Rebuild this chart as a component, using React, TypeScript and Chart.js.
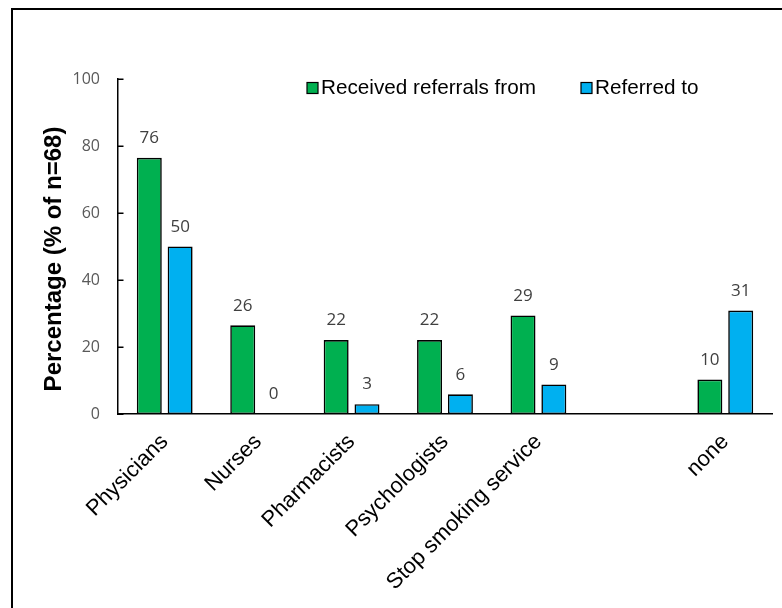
import React, { useEffect, useRef } from "react";
import { Chart, registerables } from "chart.js";

Chart.register(...registerables);

const categories = ["Physicians", "Nurses", "Pharmacists", "Psychologists", "Stop smoking service", "", "none"];
const receivedFrom = [76.47, 26.47, 22.06, 22.06, 29.41, null, 10.29];
const referredTo = [50, 0, 2.94, 5.88, 8.82, null, 30.88];
const seriesNames = ["Received referrals from", "Referred to"];
const seriesColors = ["#00B050", "#00B0F0"];
const yTitle = "Percentage (% of n=68)";
const yMin = 0;
const yMax = 100;
const yStep = 20;

const W = 774;
const H = 600;

const overlayPlugin = {
  id: "overlay",
  afterDatasetsDraw(chart: any) {
    const ctx = chart.ctx;
    const area = chart.chartArea;
    const yScale = chart.scales.y;
    ctx.save();
    // inward y ticks
    ctx.strokeStyle = "#000";
    ctx.lineWidth = 1.5;
    for (let v = yMin; v <= yMax; v += yStep) {
      const py = Math.round(yScale.getPixelForValue(v)) + 0.25;
      ctx.beginPath();
      ctx.moveTo(area.left, py);
      ctx.lineTo(area.left + 5.5, py);
      ctx.stroke();
    }
    // data labels
    ctx.font = "17px 'Open Sans'";
    ctx.fillStyle = "#404040";
    ctx.textAlign = "center";
    ctx.textBaseline = "middle";
    chart.data.datasets.forEach((ds: any, di: number) => {
      const meta = chart.getDatasetMeta(di);
      meta.data.forEach((el: any, i: number) => {
        const v = ds.data[i];
        if (v === null || v === undefined) return;
        ctx.fillText(String(Math.round(v)), el.x, el.y - 19.5);
      });
    });
    // legend
    const legendX = [299, 573];
    const legendY = 80;
    ctx.font = "20.7px 'Liberation Sans', Arial, sans-serif";
    ctx.textAlign = "left";
    ctx.textBaseline = "middle";
    seriesNames.forEach((name, i) => {
      const x = legendX[i];
      ctx.fillStyle = seriesColors[i];
      ctx.fillRect(x, legendY - 5.5, 11, 11);
      ctx.strokeStyle = "#000";
      ctx.lineWidth = 1.2;
      ctx.strokeRect(x, legendY - 5.5, 11, 11);
      ctx.fillStyle = "#000";
      ctx.fillText(name, x + 14, legendY + 0.5);
    });
    // y title
    ctx.font = "bold 24px 'Liberation Sans', Arial, sans-serif";
    ctx.fillStyle = "#000";
    ctx.textAlign = "center";
    ctx.textBaseline = "middle";
    ctx.translate(46, 251);
    ctx.rotate(-Math.PI / 2);
    ctx.fillText(yTitle, 0, 0);
    ctx.restore();
  },
};

export default function App() {
  const ref = useRef<HTMLCanvasElement | null>(null);
  useEffect(() => {
    if (!ref.current) return;
    const chart = new Chart(ref.current, {
      type: "bar",
      data: {
        labels: categories,
        datasets: [
          {
            label: seriesNames[0],
            data: receivedFrom as any,
            backgroundColor: seriesColors[0],
            borderColor: "#000",
            borderWidth: 1.6,
            borderSkipped: false,
            categoryPercentage: 0.66,
            barPercentage: 0.81,
          },
          {
            label: seriesNames[1],
            data: referredTo as any,
            backgroundColor: seriesColors[1],
            borderColor: "#000",
            borderWidth: 1.6,
            borderSkipped: false,
            categoryPercentage: 0.66,
            barPercentage: 0.81,
          },
        ],
      },
      options: {
        responsive: false,
        animation: false,
        devicePixelRatio: 1,
        layout: { padding: { top: 71, right: 10, left: 0, bottom: 0 } },
        plugins: {
          legend: { display: false },
          tooltip: { enabled: false },
          title: { display: false },
        },
        scales: {
          x: {
            grid: { display: false, drawTicks: false },
            border: { display: true, color: "#000", width: 1.5 },
            ticks: {
              autoSkip: false,
              maxRotation: 45,
              minRotation: 45,
              padding: 15,
              color: "#000",
              font: { family: "'Liberation Sans', Arial, sans-serif", size: 22 },
            },
            afterFit(axis: any) {
              axis.height = 194;
            },
          },
          y: {
            min: yMin,
            max: yMax,
            grid: { display: false, drawTicks: false },
            border: { display: true, color: "#000", width: 1.5 },
            ticks: {
              stepSize: yStep,
              padding: 18,
              color: "#595959",
              font: { family: "'Open Sans', sans-serif", size: 16 },
            },
            afterFit(axis: any) {
              axis.width = 110;
            },
          },
        },
      },
      plugins: [overlayPlugin],
    });
    return () => chart.destroy();
  }, []);

  return (
    <div style={{ position: "fixed", left: 8, top: 8, width: W, height: H, overflow: "hidden", background: "#fff" }}>
      <div
        style={{
          position: "absolute",
          left: 3,
          top: 0,
          width: 1000,
          height: 1000,
          border: "2px solid #000",
        }}
      />
      <canvas ref={ref} width={W} height={H} style={{ position: "absolute", left: 0, top: 0, width: W, height: H }} />
    </div>
  );
}
